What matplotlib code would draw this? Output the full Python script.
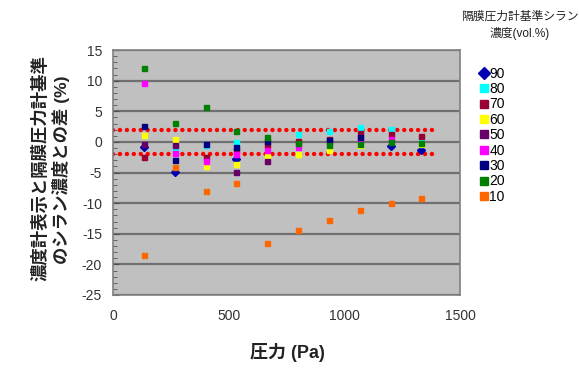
import numpy as np
import matplotlib
matplotlib.use("Agg")
import matplotlib.pyplot as plt
from matplotlib.ticker import MultipleLocator

plt.rcParams['font.family'] = ['Liberation Sans', 'Noto Sans CJK JP', 'DejaVu Sans']
plt.rcParams['axes.unicode_minus'] = False

nan = np.nan
pressure = [133.3, 266.6, 400.0, 533.3, 666.6, 800.0, 933.3, 1066.6, 1200.0, 1333.3]

series_names = ['90', '80', '70', '60', '50', '40', '30', '20', '10']
s90 = [-0.8, -4.9, nan, -2.85, nan, nan, nan, nan, -0.65, -1.25]
s80 = [nan, -1.4, -0.55, -0.1, nan, 1.3, 1.8, 2.4, 2.05, 0.8]
s70 = [-2.4, nan, -2.5, -1.25, -0.45, 0.1, 0.55, 1.4, 1.3, 0.9]
s60 = [1.1, 0.4, -4.0, -3.6, -2.35, -1.9, -1.25, -0.55, nan, -0.3]
s50 = [-0.4, -0.55, nan, -4.9, -3.1, nan, nan, nan, nan, nan]
s40 = [9.65, -1.8, -3.2, -1.9, -1.4, -0.9, 0.0, 0.4, 0.55, nan]
s30 = [2.6, -2.9, -0.3, -0.9, 0.1, nan, 0.3, 0.8, nan, nan]
s20 = [12.1, 3.1, 5.7, 1.8, 0.8, -0.15, -0.55, -0.3, -0.1, -0.15]
s10 = [-18.5, -4.1, -8.1, -6.7, -16.5, -14.4, -12.7, -11.1, -10.0, -9.1]
series_values = [s90, s80, s70, s60, s50, s40, s30, s20, s10]

colors = ['#0000B0', '#00FFFF', '#990033', '#FFFF00', '#660066',
          '#FF00FF', '#000080', '#008000', '#FF6600']
markers = ['D', 's', 's', 's', 's', 's', 's', 's', 's']

limit_x = [0, 1400]
limit_upper = [2, 2]
limit_lower = [-2, -2]

fig = plt.figure(figsize=(5.79, 3.68), dpi=100)
ax = fig.add_axes([113/579, 1-295/368, (460-113)/579, (295-50)/368])
ax.set_facecolor('#C0C0C0')

ax.set_xlim(0, 1500)
ax.set_ylim(-25, 15)
ax.yaxis.set_major_locator(MultipleLocator(5))
ax.yaxis.set_minor_locator(MultipleLocator(1))
ax.xaxis.set_major_locator(MultipleLocator(500))
ax.grid(axis='y', which='major', color='#707070', linewidth=1.6)
ax.set_axisbelow(True)

for sp in ax.spines.values():
    sp.set_color('#808080')
    sp.set_linewidth(1.2)

ax.tick_params(axis='y', which='both', direction='in', color='#505050',
               labelsize=10, labelcolor='#333333', pad=8)
ax.tick_params(axis='y', which='major', length=4)
ax.tick_params(axis='y', which='minor', length=3)
ax.tick_params(axis='x', length=0, labelsize=10, labelcolor='#333333', pad=10)

for lim in (limit_upper, limit_lower):
    ax.plot(limit_x, lim, color='red', linewidth=3.2,
            linestyle=(0, (0.01, 1.55)), dash_capstyle='round', zorder=2)

handles = []
for name, vals, c, m in zip(series_names, series_values, colors, markers):
    ms = 4.2 if m == 'D' else 3.6
    h, = ax.plot(pressure, vals, linestyle='none', marker=m, markersize=ms,
                 markerfacecolor=c, markeredgecolor=c, label=name, zorder=3)
    handles.append(h)

leg_handles = []
for name, c, m in zip(series_names, colors, markers):
    leg_handles.append(plt.Line2D([], [], linestyle='none', marker=m,
                                  markersize=6,
                                  markerfacecolor=c, markeredgecolor=c))
fig.legend(leg_handles, series_names, loc='upper left',
           bbox_to_anchor=(469/579, 1-57/368), frameon=False,
           fontsize=10, handlelength=0.7, handletextpad=0.05,
           labelspacing=0.1, borderpad=0.2)

fig.text(520/579, 1-17/368, '隔膜圧力計基準シラン', ha='center', va='center',
         fontsize=8.5, color='#222222')
fig.text(520/579, 1-33/368, '濃度(vol.%)', ha='center', va='center',
         fontsize=8.5, color='#222222')

fig.text(287/579, 1-352/368, '圧力 (Pa)', ha='center', va='center',
         fontsize=13, fontweight='bold', color='#222222')
fig.text(40/579, 1-168/368, '濃度計表示と隔膜圧力計基準', ha='center', va='center',
         rotation=90, fontsize=12.5, fontweight='bold', color='#222222')
fig.text(61/579, 1-170/368, 'のシラン濃度との差 (%)', ha='center', va='center',
         rotation=90, fontsize=12.5, fontweight='bold', color='#222222')

fig.savefig('out.png', dpi=100)
